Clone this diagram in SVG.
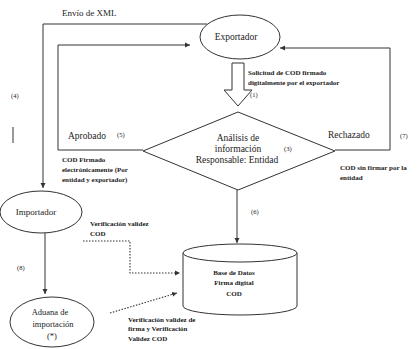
<svg xmlns="http://www.w3.org/2000/svg" width="417" height="349" viewBox="0 0 417 349">
<style>
text{font-family:"Liberation Serif","Times New Roman",serif;fill:#222}
.s{font-size:7px;font-weight:bold}
.m{font-size:9.5px}
.n{font-size:6.5px}
.ln{fill:none;stroke:#333;stroke-width:1}
.dt{fill:none;stroke:#333;stroke-width:1.1;stroke-dasharray:1.5 1.5}
.sh{fill:#fff;stroke:#333;stroke-width:1}
</style>
<defs>
<marker id="ah" markerWidth="6" markerHeight="6" refX="5" refY="3" orient="auto" markerUnits="userSpaceOnUse">
<path d="M0,0.5 L5,3 L0,5.5 Z" fill="#333"/>
</marker>
</defs>
<rect width="417" height="349" fill="#fff"/>
<g id="connectors">
<polyline class="ln" points="207,24 43,24 43,188" marker-end="url(#ah)"/>
<polyline class="ln" points="143,150 58,150 58,45 190,45" marker-end="url(#ah)"/>
<polyline class="ln" points="335,150 390,150 390,48 280,48" marker-end="url(#ah)"/>
<line class="ln" x1="237" y1="190" x2="237" y2="243" marker-end="url(#ah)"/>
<line class="ln" x1="45" y1="233" x2="45" y2="294" marker-end="url(#ah)"/>
<polyline class="dt" points="83,241 130,241 130,273 180,273" marker-end="url(#ah)"/>
<line class="dt" x1="110" y1="313" x2="177" y2="293" marker-end="url(#ah)"/>
<path class="sh" d="M232,63 L244,63 L244,90 L252,90 L238,106 L224,90 L232,90 Z"/>
<line class="ln" x1="13" y1="127" x2="13" y2="143"/>
</g>
<g id="labels">
<text x="62" y="16" style="font-size:9px">Envío de XML</text>
<text x="11" y="98" class="n">(4)</text>
<text x="248" y="75" class="s">Solicitud de COD firmado</text>
<text x="248" y="85" class="s">digitalmente por el exportador</text>
<text x="250" y="97" class="n">(1)</text>
<text x="68" y="139" class="m">Aprobado</text>
<text x="117" y="137" class="n">(5)</text>
<text x="62" y="162" class="s">COD Firmado</text>
<text x="62" y="172" class="s">electrónicamente (Por</text>
<text x="62" y="182" class="s">entidad y exportador)</text>
<text x="328" y="138" class="m">Rechazado</text>
<text x="400" y="138" class="n">(7)</text>
<text x="340" y="170" class="s">COD sin firmar por la</text>
<text x="340" y="180" class="s">entidad</text>
<text x="251" y="214" class="n">(6)</text>
<text x="90" y="226" class="s">Verificación validez</text>
<text x="90" y="236" class="s">COD</text>
<text x="17" y="270" class="n">(8)</text>
<text x="128" y="322" class="s">Verificación validez de</text>
<text x="128" y="331" class="s">firma y Verificación</text>
<text x="128" y="341" class="s">Validez COD</text>
</g>
<g id="exportador">
<ellipse class="sh" cx="240" cy="37" rx="40" ry="22"/>
<text x="236" y="40" text-anchor="middle" style="font-size:9.5px">Exportador</text>
</g>
<g id="analisis">
<polygon class="sh" points="238,112 335,151 238,190 143,151"/>
<text x="238" y="141" text-anchor="middle" class="m">Análisis de</text>
<text x="238" y="152" text-anchor="middle" class="m">información</text>
<text x="237" y="163" text-anchor="middle" class="m">Responsable: Entidad</text>
<text x="284" y="151" class="n">(3)</text>
</g>
<g id="importador">
<ellipse class="sh" cx="41" cy="212" rx="41" ry="21"/>
<text x="36" y="215" text-anchor="middle" style="font-size:9px">Importador</text>
</g>
<g id="aduana">
<ellipse class="sh" cx="52" cy="322" rx="42" ry="25"/>
<text x="50" y="315" text-anchor="middle" style="font-size:8.5px">Aduana de</text>
<text x="53" y="327" text-anchor="middle" style="font-size:8.5px">importación</text>
<text x="52" y="339" text-anchor="middle" style="font-size:8.5px">(*)</text>
</g>
<g id="basedatos">
<path class="sh" d="M183,253 L183,306 A57,9 0 0 0 297,306 L297,253"/>
<ellipse class="sh" cx="240" cy="253" rx="57" ry="9"/>
<text x="234" y="275" text-anchor="middle" class="s">Base de Datos</text>
<text x="234" y="285" text-anchor="middle" class="s">Firma digital</text>
<text x="234" y="296" text-anchor="middle" class="s">COD</text>
</g>
</svg>
